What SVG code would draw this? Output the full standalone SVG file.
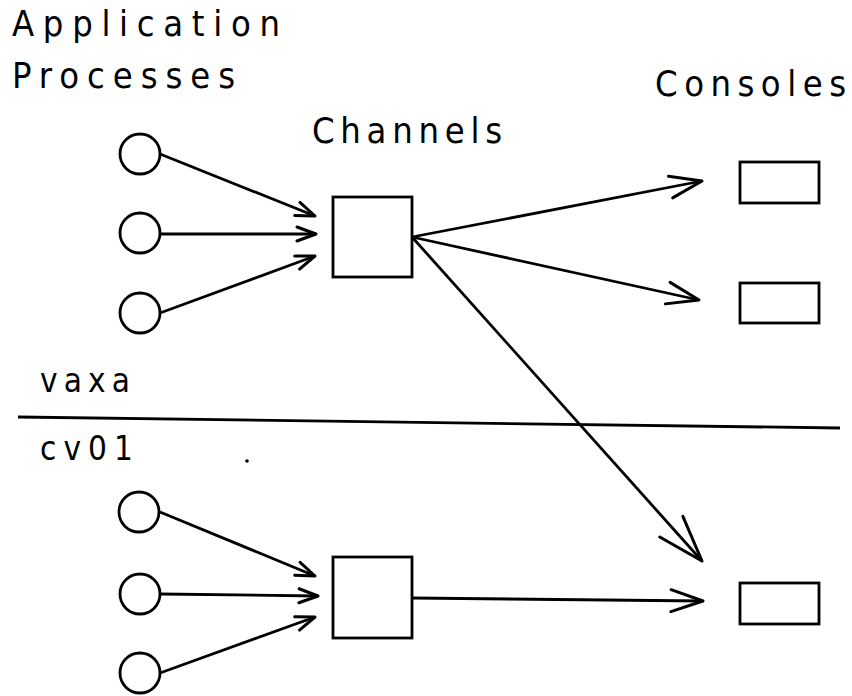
<svg xmlns="http://www.w3.org/2000/svg" width="852" height="696" viewBox="0 0 852 696">
<style>
  .lbl { font-family: "DejaVu Sans Condensed", "DejaVu Sans", "Liberation Sans", sans-serif; font-stretch: condensed; font-size: 36px; fill: #000; }
  .sm { font-size: 33px; }
  .node { fill: #fff; stroke: #000; stroke-width: 2.8; }
  .edge { fill: none; stroke: #000; stroke-width: 2.8; }
</style>
<defs>
  <marker id="aS" markerUnits="userSpaceOnUse" orient="auto" refX="0" refY="0" viewBox="-22 -10 24 20" markerWidth="24" markerHeight="20" overflow="visible">
    <path d="M-19,-7 L0,0 L-19,7" fill="none" stroke="#000" stroke-width="3" stroke-linecap="round" stroke-linejoin="round"/>
  </marker>
  <marker id="aL" markerUnits="userSpaceOnUse" orient="auto" refX="0" refY="0" viewBox="-36 -14 38 28" markerWidth="38" markerHeight="28" overflow="visible">
    <path d="M-32,-11 L0,0 L-32,11" fill="none" stroke="#000" stroke-width="3" stroke-linecap="round" stroke-linejoin="round"/>
  </marker>
  <marker id="aXL" markerUnits="userSpaceOnUse" orient="auto" refX="0" refY="0" viewBox="-50 -18 52 36" markerWidth="52" markerHeight="36" overflow="visible">
    <path d="M-46,-15.5 L0,0 L-46,15.5" fill="none" stroke="#000" stroke-width="3" stroke-linecap="round" stroke-linejoin="round"/>
  </marker>
</defs>
<rect width="852" height="696" fill="#fff"/>

<g id="labels">
  <text class="lbl" x="12" y="36" textLength="268" lengthAdjust="spacing">Application</text>
  <text class="lbl" x="12" y="88" textLength="223" lengthAdjust="spacing">Processes</text>
  <text class="lbl" x="312" y="143" textLength="190" lengthAdjust="spacing">Channels</text>
  <text class="lbl" x="655" y="96" textLength="191" lengthAdjust="spacing">Consoles</text>
  <text class="lbl sm" x="40" y="392" textLength="90" lengthAdjust="spacing">vaxa</text>
  <text class="lbl sm" x="40" y="460" textLength="93" lengthAdjust="spacing">cv01</text>
</g>

<g id="separator">
  <line x1="18" y1="417" x2="840" y2="428" stroke="#000" stroke-width="2.8"/>
  <circle cx="247" cy="461" r="1.8" fill="#000"/>
</g>

<g id="connectors">
  <line class="edge" x1="160" y1="154" x2="315" y2="216" marker-end="url(#aS)"/>
  <line class="edge" x1="160" y1="234" x2="316" y2="234" marker-end="url(#aS)"/>
  <line class="edge" x1="160" y1="313" x2="315" y2="256" marker-end="url(#aS)"/>
  <line class="edge" x1="412" y1="237" x2="702" y2="181" marker-end="url(#aL)"/>
  <line class="edge" x1="412" y1="237" x2="699" y2="300" marker-end="url(#aL)"/>
  <line class="edge" x1="412" y1="237" x2="702" y2="561" marker-end="url(#aXL)"/>
  <line class="edge" x1="160" y1="512" x2="315" y2="576" marker-end="url(#aS)"/>
  <line class="edge" x1="160" y1="594" x2="318" y2="596" marker-end="url(#aS)"/>
  <line class="edge" x1="160" y1="673" x2="315" y2="617" marker-end="url(#aS)"/>
  <line class="edge" x1="412" y1="598" x2="703" y2="601" marker-end="url(#aL)"/>
</g>

<g id="proc-a1"><circle class="node" cx="140" cy="154" r="20"/></g>
<g id="proc-a2"><circle class="node" cx="140" cy="233" r="20"/></g>
<g id="proc-a3"><circle class="node" cx="140" cy="313" r="20"/></g>
<g id="channel-a"><rect class="node" x="333" y="197" width="79" height="80"/></g>
<g id="console-1"><rect class="node" x="740" y="162" width="79" height="41"/></g>
<g id="console-2"><rect class="node" x="740" y="283" width="79" height="40"/></g>
<g id="console-3"><rect class="node" x="740" y="583" width="79" height="41"/></g>
<g id="proc-b1"><circle class="node" cx="139" cy="512" r="20"/></g>
<g id="proc-b2"><circle class="node" cx="140" cy="594" r="20"/></g>
<g id="proc-b3"><circle class="node" cx="140" cy="673" r="20"/></g>
<g id="channel-b"><rect class="node" x="333" y="557" width="79" height="81"/></g>
</svg>
